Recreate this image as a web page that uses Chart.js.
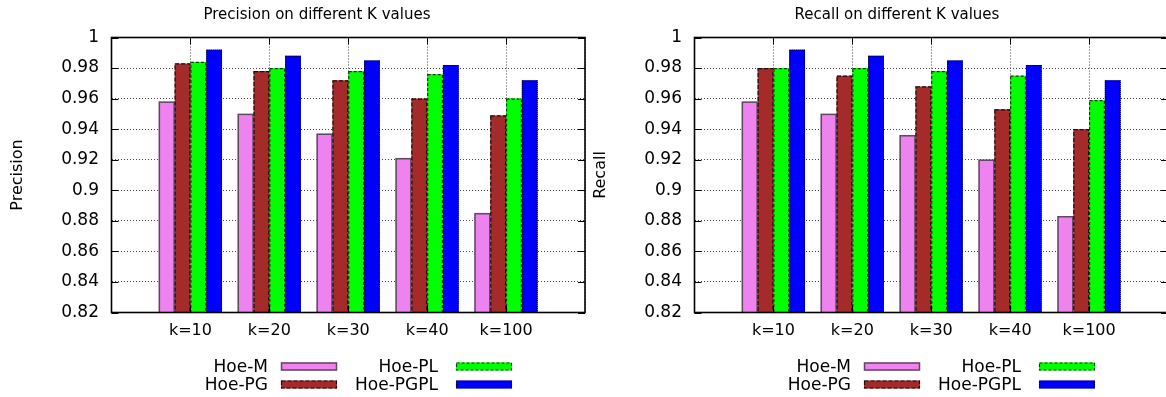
<!DOCTYPE html>
<html><head><meta charset="utf-8">
<script src="https://cdn.jsdelivr.net/npm/chart.js@4.4.0/dist/chart.umd.min.js"></script>
<style>
html,body{margin:0;padding:0;background:#fff;overflow:hidden;width:1166px;height:397px;position:relative;}
.wrap{position:absolute;top:0;width:600px;height:397px;}
#w1{left:0}
#w2{left:583px}
canvas{display:block}
</style></head><body>
<div class="wrap" id="w1"><canvas id="c1" width="600" height="397"></canvas></div>
<div class="wrap" id="w2"><canvas id="c2" width="600" height="397"></canvas></div>
<script>
// ---- data ----
const categories = ['k=10', 'k=20', 'k=30', 'k=40', 'k=100'];
const seriesNames = ['Hoe-M', 'Hoe-PG', 'Hoe-PL', 'Hoe-PGPL'];
const precisionHoeM    = [0.958, 0.950, 0.937, 0.921, 0.885];
const precisionHoePG   = [0.983, 0.978, 0.972, 0.960, 0.949];
const precisionHoePL   = [0.984, 0.980, 0.978, 0.976, 0.960];
const precisionHoePGPL = [0.992, 0.988, 0.985, 0.982, 0.972];
const recallHoeM       = [0.958, 0.950, 0.936, 0.920, 0.883];
const recallHoePG      = [0.980, 0.975, 0.968, 0.953, 0.940];
const recallHoePL      = [0.980, 0.980, 0.978, 0.975, 0.959];
const recallHoePGPL    = [0.992, 0.988, 0.985, 0.982, 0.972];
const yTickMin = 0.82, yTickMax = 1, yTickStep = 0.02;

// ---- styles ----
const seriesColors = ['#ee82ee', '#a52a2a', '#00ff00', '#0000ff'];
const barEdges = [
  {edge: '#5e4a5e', lw: 1.5, dash: []},
  {edge: '#111', lw: 1.2, dash: [4, 2]},
  {edge: '#1a3a1a', lw: 1.2, dash: [3, 2]},
  {edge: '#000033', lw: 1.2, dash: [1, 1]}
];
const FONT = '"DejaVu Sans", Verdana, sans-serif';

// x axis padded with empty slots so the range runs from -1 to 5 like gnuplot
const xLabels = ['', ...categories, ''];
const pad = arr => [null, ...arr, null];

const gpPlugin = {
  id: 'gp',
  afterDatasetsDraw(chart) {
    const ctx = chart.ctx;
    const a = chart.chartArea;
    chart.data.datasets.forEach((ds, di) => {
      const meta = chart.getDatasetMeta(di);
      const st = barEdges[di];
      ctx.save();
      ctx.beginPath();
      ctx.rect(a.left, a.top, a.right - a.left, a.bottom - a.top);
      ctx.clip();
      ctx.strokeStyle = st.edge; ctx.lineWidth = st.lw; ctx.setLineDash(st.dash);
      meta.data.forEach((bar, i) => {
        if (ds.data[i] == null) return;
        const p = bar.getProps(['x', 'y', 'base', 'width'], true);
        const l = p.x - p.width / 2;
        const b = Math.min(p.base, a.bottom);
        ctx.strokeRect(l + 0.5, p.y + 0.5, p.width - 1, b - p.y);
      });
      ctx.restore();
    });
  },
  afterDraw(chart, args, opts) {
    const {ctx, chartArea: a, scales: {x, y}} = chart;
    ctx.save();
    const line = (x1, y1, x2, y2) => { ctx.beginPath(); ctx.moveTo(x1, y1); ctx.lineTo(x2, y2); ctx.stroke(); };
    ctx.strokeStyle = '#000'; ctx.lineWidth = 1; ctx.setLineDash([]);
    y.ticks.forEach(t => {
      const py = Math.round(y.getPixelForValue(t.value)) + 0.5;
      line(a.left, py, a.left + 7, py);
      line(a.right - 7, py, a.right, py);
    });
    x.ticks.forEach((t, i) => {
      if (!chart.data.labels[i]) return;
      const px = Math.round(x.getPixelForValue(i)) + 0.5;
      line(px, a.top, px, a.top + 7);
      line(px, a.bottom - 7, px, a.bottom);
    });
    ctx.lineWidth = 1.6;
    ctx.strokeRect(a.left, a.top, a.right - a.left, a.bottom - a.top);
    // title
    ctx.fillStyle = '#000';
    ctx.font = '15px ' + FONT;
    ctx.textAlign = 'center'; ctx.textBaseline = 'middle';
    ctx.fillText(opts.title, opts.titleX, 15);
    // legend (gnuplot key: text right-justified, sample to the right)
    const textRight = [268, 438], swLeft = [281, 456], rowY = [366.5, 384.5];
    ctx.font = '17px ' + FONT;
    ctx.textAlign = 'right';
    chart.data.datasets.forEach((ds, i) => {
      const c = Math.floor(i / 2), r = i % 2;
      const yy = rowY[r];
      ctx.fillStyle = '#000';
      ctx.fillText(ds.label, textRight[c], yy + 1);
      ctx.fillStyle = ds.backgroundColor;
      ctx.fillRect(swLeft[c], yy - 4, 56, 8);
      ctx.strokeStyle = barEdges[i].edge; ctx.lineWidth = barEdges[i].lw; ctx.setLineDash(barEdges[i].dash);
      ctx.strokeRect(swLeft[c] + 0.5, yy - 4 + 0.5, 55, 7);
      ctx.setLineDash([]);
    });
    ctx.restore();
  }
};

function makeChart(id, seriesData, yTitle, title, titleX) {
  return new Chart(document.getElementById(id), {
    type: 'bar',
    data: {
      labels: xLabels,
      datasets: seriesData.map((d, i) => ({
        label: seriesNames[i],
        data: pad(d),
        backgroundColor: seriesColors[i],
        borderWidth: 0,
        categoryPercentage: 0.8,
        barPercentage: 1.0
      }))
    },
    options: {
      responsive: false,
      animation: false,
      layout: {padding: {top: 37.5, right: 15, left: 0, bottom: 0}},
      plugins: {
        legend: {display: false},
        tooltip: {enabled: false},
        gp: {title: title, titleX: titleX}
      },
      scales: {
        x: {
          offset: false,
          afterFit(s) { s.height = 84.5; },
          grid: {offset: false, color: '#444', lineWidth: 1, drawTicks: false},
          border: {display: false, dash: [1, 2]},
          ticks: {autoSkip: false, maxRotation: 0, padding: 9, color: '#000', font: {family: FONT, size: 16}}
        },
        y: {
          min: yTickMin, max: yTickMax,
          afterFit(s) { s.width = 111.5; },
          grid: {color: '#444', lineWidth: 1, drawTicks: false},
          border: {display: false, dash: [1, 2]},
          ticks: {stepSize: yTickStep, padding: 12.5, color: '#000', font: {family: FONT, size: 17},
                  callback: v => String(parseFloat(Number(v).toFixed(2)))},
          title: {display: true, text: yTitle, color: '#000', font: {family: FONT, size: 16}, padding: {top: 8.4, bottom: 0}}
        }
      }
    },
    plugins: [gpPlugin]
  });
}

makeChart('c1', [precisionHoeM, precisionHoePG, precisionHoePL, precisionHoePGPL], 'Precision', 'Precision on different K values', 317);
makeChart('c2', [recallHoeM, recallHoePG, recallHoePL, recallHoePGPL], 'Recall', 'Recall on different K values', 314);
</script>
</body></html>
